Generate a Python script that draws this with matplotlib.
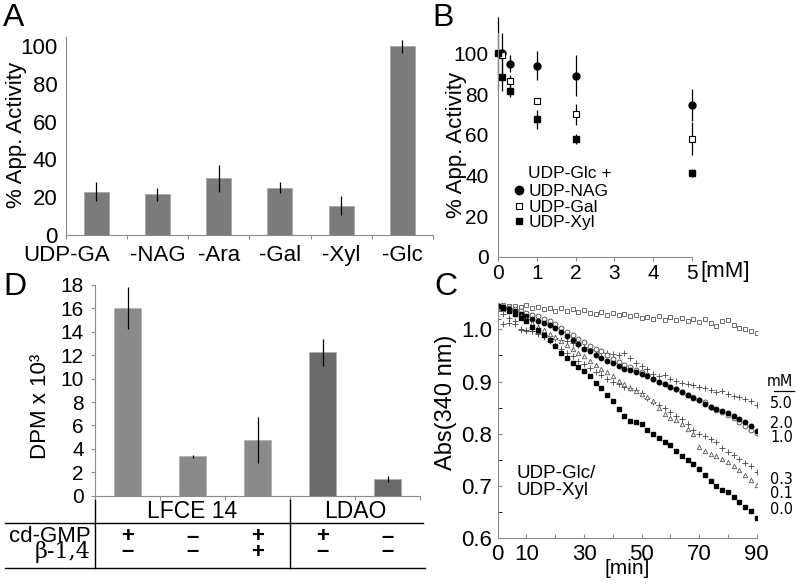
import matplotlib.pyplot as plt
import matplotlib.transforms as mtransforms
from matplotlib import font_manager
from matplotlib.lines import Line2D

plt.rcParams['font.family'] = ['Liberation Sans', 'DejaVu Sans']

# ---- panel A data
a_labels = ['UDP-GA', '-NAG', '-Ara', '-Gal', '-Xyl', '-Glc']
a_vals = [23, 21.5, 30, 25, 15.5, 100]
a_err = [5, 3.5, 7, 2.8, 5, 3.5]

# ---- panel B data (mM, % activity)
nag_x = [0.1, 0.3, 1, 2, 5]
nag_y = [100, 95, 94, 89, 74.5]
nag_e = [10, 4, 7, 10, 8]
gal_x = [0.1, 0.3, 1, 2, 5]
gal_y = [99, 86.5, 76.5, 70, 58]
gal_e = [3, 3, 1, 5, 8]
xyl_x = [0, 0.1, 0.3, 1, 2, 5]
xyl_y = [100, 88.5, 81.5, 67.5, 58, 41]
xyl_e = [18, 7, 3, 4.5, 2.5, 2]

# ---- panel D data
d_vals = [16, 3.35, 4.75, 12.25, 1.45]
d_err = [1.8, 0.15, 2.0, 1.15, 0.25]
d_colors = ['#8a8a8a', '#8a8a8a', '#8a8a8a', '#6a6a6a', '#6a6a6a']
cdgmp = ['+', '\u2013', '+', '+', '\u2013']
beta14 = ['\u2013', '\u2013', '+', '\u2013', '\u2013']

# ---- panel C data (every 2 min)
t_min = list(range(0, 91, 2))
ctrl = [1.045, 1.046, 1.044, 1.045, 1.043, 1.046, 1.040, 1.042, 1.038, 1.041,
        1.036, 1.040, 1.035, 1.038, 1.033, 1.037, 1.032, 1.030, 1.034, 1.028,
        1.031, 1.027, 1.030, 1.025, 1.028, 1.022, 1.024, 1.020, 1.026, 1.018,
        1.023, 1.017, 1.021, 1.016, 1.020, 1.014, 1.019, 1.012, 1.006, 1.015,
        1.018, 1.008, 1.003, 1.000, 0.997, 0.993]
c50 = [1.020, 1.010, 1.012, 1.015, 0.998, 0.997, 0.996, 0.993, 0.990, 0.987,
       0.984, 0.980, 0.977, 0.974, 0.970, 0.967, 0.963, 0.960, 0.957, 0.955,
       0.953, 0.950, 0.955, 0.945, 0.935, 0.930, 0.925, 0.915, 0.910, 0.912,
       0.905, 0.902, 0.898, 0.896, 0.893, 0.890, 0.888, 0.884, 0.880, 0.882,
       0.876, 0.872, 0.870, 0.866, 0.862, 0.856]
c20 = [1.045, 1.042, 1.038, 1.035, 1.030, 1.025, 1.020, 1.015, 1.012, 1.008,
       1.003, 0.995, 0.988, 0.980, 0.972, 0.962, 0.958, 0.950, 0.945, 0.940,
       0.935, 0.930, 0.925, 0.922, 0.918, 0.915, 0.910, 0.905, 0.900, 0.895,
       0.890, 0.886, 0.880, 0.874, 0.868, 0.864, 0.858, 0.852, 0.848, 0.844,
       0.840, 0.834, 0.828, 0.822, 0.815, 0.806]
c10 = [1.045, 1.043, 1.040, 1.038, 1.036, 1.032, 1.028, 1.025, 1.020, 1.015,
       1.010, 1.002, 0.995, 0.990, 0.982, 0.975, 0.968, 0.962, 0.958, 0.950,
       0.943, 0.938, 0.932, 0.928, 0.922, 0.918, 0.912, 0.905, 0.900, 0.896,
       0.890, 0.885, 0.880, 0.875, 0.870, 0.864, 0.860, 0.852, 0.846, 0.842,
       0.836, 0.830, 0.822, 0.815, 0.808, 0.802]
c03 = [1.035, 1.030, 1.022, 1.010, 1.000, 0.998, 0.996, 0.992, 0.985, 0.978,
       0.970, 0.962, 0.955, 0.948, 0.940, 0.933, 0.926, 0.918, 0.912, 0.905,
       0.900, 0.895, 0.890, 0.888, 0.884, 0.878, 0.868, 0.860, 0.855, 0.850,
       0.842, 0.835, 0.828, 0.818, 0.808, 0.800, 0.795, 0.790, 0.785, 0.772,
       0.765, 0.760, 0.752, 0.745, 0.738, 0.726]
c01 = [1.040, 1.038, 1.035, 1.030, 1.025, 1.020, 1.012, 1.005, 0.998, 0.992,
       0.985, 0.978, 0.970, 0.962, 0.955, 0.948, 0.940, 0.932, 0.925, 0.918,
       0.910, 0.902, 0.895, 0.888, 0.882, 0.876, 0.870, 0.862, 0.850, 0.838,
       0.830, 0.826, 0.818, 0.810, 0.800, 0.775, 0.768, 0.762, 0.758, 0.752,
       0.746, 0.738, 0.730, 0.722, 0.712, 0.702]
c00 = [1.045, 1.040, 1.035, 1.030, 1.022, 1.015, 1.005, 0.998, 0.990, 0.980,
       0.968, 0.955, 0.945, 0.935, 0.928, 0.920, 0.910, 0.898, 0.888, 0.875,
       0.862, 0.848, 0.835, 0.825, 0.822, 0.818, 0.808, 0.800, 0.792, 0.785,
       0.778, 0.768, 0.758, 0.750, 0.742, 0.732, 0.722, 0.710, 0.700, 0.692,
       0.688, 0.680, 0.670, 0.660, 0.652, 0.638]
c_conc = ['5.0', '2.0', '1.0', '0.3', '0.1', '0.0']

W, H = 797, 587
fig = plt.figure(figsize=(W / 100, H / 100), dpi=100)


def rect(x0, y0, x1, y1):
    return [x0 / W, 1 - y1 / H, (x1 - x0) / W, (y1 - y0) / H]


def fp(x, y):
    return x / W, 1 - y / H


spine_c = '#8c8c8c'


def style(ax):
    for s in ['top', 'right']:
        ax.spines[s].set_visible(False)
    for s in ['left', 'bottom']:
        ax.spines[s].set_color(spine_c)
    ax.tick_params(color=spine_c, length=3)


# a narrow regular face for the squeezed labels at the right edge of panel C
narrow = None
for f in font_manager.fontManager.ttflist:
    regular = f.style == 'normal' and f.weight in (400, 'normal', 'regular', 'book')
    if regular and (f.name == 'Liberation Sans Narrow' or
                    (f.name == 'DejaVu Sans' and f.stretch == 'condensed')):
        narrow = f
        break
if narrow is not None:
    conc_font = dict(fontproperties=font_manager.FontProperties(fname=narrow.fname, size=11.5))
else:
    conc_font = dict(fontsize=10)

# ---------------- A
axA = fig.add_axes(rect(65.6, 36.7, 433, 235))
style(axA)
xa = range(len(a_vals))
axA.bar(xa, a_vals, width=0.41, color='#7b7b7b', edgecolor='#a8a8a8', lw=0.6)
axA.errorbar(xa, a_vals, yerr=a_err, fmt='none', ecolor='black', elinewidth=0.9)
axA.set_xlim(-0.5, 5.5)
axA.set_ylim(0, 105)
axA.set_yticks(range(0, 101, 20))
axA.set_xticks([i - 0.5 for i in range(7)])
axA.set_xticklabels([])
axA.set_xticks(list(xa), minor=True)
axA.set_xticklabels(a_labels, minor=True, fontsize=16)
axA.tick_params(axis='x', which='minor', length=0, pad=7)
axA.tick_params(axis='y', labelsize=16, length=0, pad=6)
lab0 = axA.get_xticklabels(minor=True)[0]
lab0.set_transform(lab0.get_transform() + mtransforms.ScaledTranslation(-0.30, 0, fig.dpi_scale_trans))
fig.text(*fp(17, 135), '% App. Activity', rotation=90, fontsize=16, ha='center', va='center')
fig.text(*fp(3, 18), 'A', fontsize=23, va='center')

# ---------------- B
axB = fig.add_axes(rect(498.3, 33, 691.7, 256.7))
style(axB)
kw = dict(elinewidth=0.9, clip_on=False)
axB.errorbar(nag_x, nag_y, yerr=nag_e, fmt='o', ms=5, color='black', **kw)
axB.errorbar(gal_x, gal_y, yerr=gal_e, fmt='s', ms=4.5, mfc='white', mec='black', mew=0.8,
             ecolor='black', **kw)
axB.errorbar(xyl_x, xyl_y, yerr=xyl_e, fmt='s', ms=4.5, color='black', **kw)
axB.set_xlim(0, 5)
axB.set_ylim(0, 110)
axB.set_yticks(range(0, 101, 20))
axB.set_xticks(range(6))
axB.tick_params(labelsize=15, pad=2)
axB.tick_params(axis='y', length=0, pad=7)
fig.text(*fp(456, 145), '% App. Activity', rotation=90, fontsize=16, ha='center', va='center')
fig.text(*fp(700, 272), '[mM]', fontsize=16, va='center')
fig.text(*fp(432, 18), 'B', fontsize=23, va='center')
fig.text(*fp(528, 173), 'UDP-Glc +', fontsize=12.5, va='center')
handles = [Line2D([], [], ls='none', marker='o', ms=6, color='black'),
           Line2D([], [], ls='none', marker='s', ms=5, mfc='white', mec='black', mew=0.8),
           Line2D([], [], ls='none', marker='s', ms=5, color='black')]
axB.legend(handles, ['UDP-NAG', 'UDP-Gal', 'UDP-Xyl'],
           loc='upper left', bbox_to_anchor=fp(513, 184), bbox_transform=fig.transFigure,
           frameon=False, fontsize=12.5, handlelength=0.7, handletextpad=0.2,
           labelspacing=0.02, borderpad=0, borderaxespad=0)

# ---------------- D
axD = fig.add_axes(rect(95, 284.9, 420, 495.7))
style(axD)
xd = range(len(d_vals))
axD.bar(xd, d_vals, width=0.41, color=d_colors, edgecolor='#b0b0b0', lw=0.6)
axD.errorbar(xd, d_vals, yerr=d_err, fmt='none', ecolor='black', elinewidth=0.9)
axD.set_xlim(-0.5, 4.5)
axD.set_ylim(0, 18)
axD.set_yticks(range(0, 19, 2))
axD.set_xticks([i - 0.5 for i in range(6)])
axD.set_xticklabels([])
axD.tick_params(axis='y', labelsize=15, pad=5)
fig.text(*fp(40, 406), 'DPM x 10\u00b3', rotation=90, fontsize=16, ha='center', va='center')
fig.text(*fp(3, 287), 'D', fontsize=23, va='center')

# table under panel D
tr = mtransforms.blended_transform_factory(axD.transData, fig.transFigure)
for xv in [-0.5, 2.5]:
    axD.add_line(Line2D([xv, xv], [1 - 500 / H, 1 - 568 / H], color='black', lw=1,
                        transform=tr, clip_on=False))
for yv, xr in [(522.5, 423), (567.7, 425)]:
    fig.add_artist(Line2D([5 / W, xr / W], [1 - yv / H] * 2, color='black', lw=1))
axD.text(1, 1 - 511 / H, 'LFCE 14', transform=tr, ha='center', va='center', fontsize=16.5)
axD.text(3.5, 1 - 511 / H, 'LDAO', transform=tr, ha='center', va='center', fontsize=16.5)
fig.text(*fp(91, 537), 'cd-GMP', ha='right', va='center', fontsize=16)
fig.text(*fp(91, 552), '\u03b2-1,4', ha='right', va='center', fontsize=16,
         family=['DejaVu Serif', 'Liberation Sans'])
for i in range(len(d_vals)):
    axD.text(i, 1 - 537 / H, cdgmp[i], transform=tr, ha='center', va='center',
             fontsize=16, fontweight='bold')
    axD.text(i, 1 - 552 / H, beta14[i], transform=tr, ha='center', va='center',
             fontsize=16, fontweight='bold')

# ---------------- C
axC = fig.add_axes(rect(497.7, 303.2, 756.7, 538.3))
style(axC)
axC.plot(t_min, ctrl, 's', ms=3.5, mfc='white', mec='#555555', mew=0.6)
axC.plot(t_min, c50, '+', ms=4, color='#444444', mew=0.6)
axC.plot(t_min, c10, 'o', ms=3.5, mfc='white', mec='#444444', mew=0.6)
axC.plot(t_min, c20, 'o', ms=3.2, color='black')
axC.plot(t_min, c03, '+', ms=4, color='#444444', mew=0.6)
axC.plot(t_min, c01, '^', ms=3.2, mfc='white', mec='#555555', mew=0.6)
axC.plot(t_min, c00, 's', ms=3, color='black')
axC.set_xlim(0, 90)
axC.set_ylim(0.6, 1.05)
axC.set_xticks(range(0, 91, 10))
axC.set_xticklabels(['0', '10', '', '30', '', '50', '', '70', '', '90'])
axC.set_yticks([0.6, 0.7, 0.8, 0.9, 1.0])
axC.set_yticklabels(['0.6', '0.7', '0.8', '0.9', '1.0'])
axC.set_yticks([0.65, 0.75, 0.85, 0.95], minor=True)
axC.tick_params(which='both', direction='in', length=3, labelsize=16, pad=4)
fig.text(*fp(446, 402), 'Abs(340 nm)', rotation=90, fontsize=17, ha='center', va='center')
fig.text(*fp(627, 568), '[min]', fontsize=15, ha='center', va='center')
fig.text(*fp(516, 482), 'UDP-Glc/\nUDP-Xyl', fontsize=13.5, va='center', linespacing=0.95)
fig.text(*fp(434, 287), 'C', fontsize=23, va='center')
fig.text(*fp(793, 382), 'mM', ha='right', va='center', **conc_font)
fig.add_artist(Line2D([774 / W, 794 / W], [1 - 391 / H] * 2, color='black', lw=0.9))
for lab, yv in zip(c_conc, [403, 423, 437, 480, 494, 510]):
    fig.text(*fp(793, yv), lab, ha='right', va='center', **conc_font)

fig.savefig('out.png', dpi=100)
